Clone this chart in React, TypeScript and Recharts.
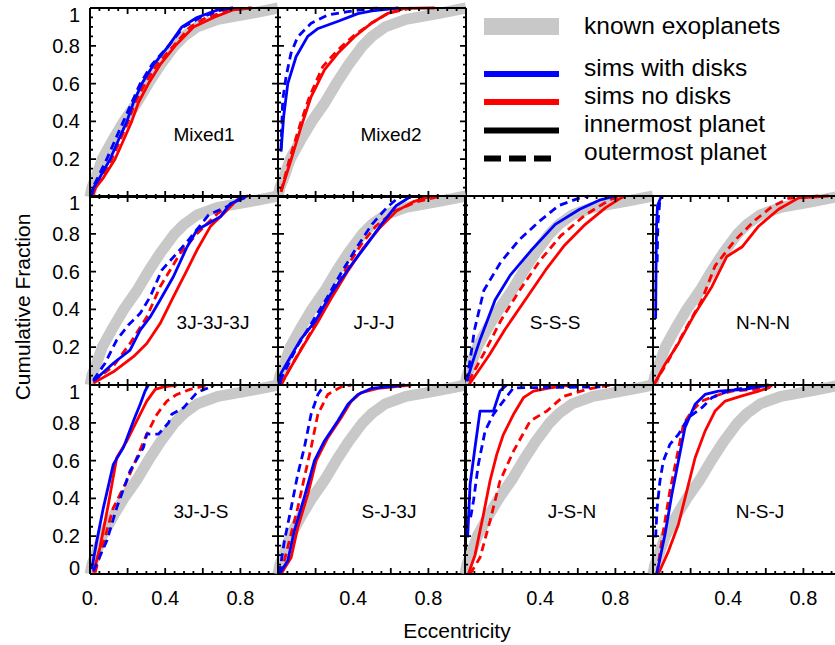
import React from "react"
import { LineChart, Line, XAxis, YAxis } from "recharts"

type Pt = [number, number] // [eccentricity, cumulative fraction]

// observed sample, same in every panel
const knownExoplanets: Pt[] = [[0, 0], [0.01, 0.05], [0.03, 0.1], [0.065, 0.2], [0.12, 0.3], [0.18, 0.4], [0.25, 0.5], [0.31, 0.6], [0.375, 0.7], [0.45, 0.8], [0.5, 0.85], [0.57, 0.9], [0.68, 0.94], [0.85, 0.97], [1, 1]]

const mixed1DiskIn: Pt[] = [[0.005, 0], [0.02, 0.05], [0.05, 0.1], [0.107, 0.2], [0.151, 0.3], [0.196, 0.4], [0.231, 0.5], [0.276, 0.6], [0.338, 0.7], [0.418, 0.8], [0.489, 0.9], [0.569, 0.95], [0.68, 0.99], [0.76, 1]]
const mixed1DiskOut: Pt[] = [[0.005, 0], [0.015, 0.05], [0.04, 0.1], [0.089, 0.2], [0.133, 0.3], [0.178, 0.4], [0.222, 0.5], [0.267, 0.6], [0.329, 0.7], [0.418, 0.8], [0.498, 0.9], [0.587, 0.95], [0.7, 0.99], [0.76, 1]]
const mixed1NoDiskIn: Pt[] = [[0.012, 0], [0.03, 0.05], [0.07, 0.1], [0.133, 0.2], [0.178, 0.3], [0.222, 0.4], [0.258, 0.5], [0.311, 0.6], [0.373, 0.7], [0.453, 0.8], [0.551, 0.9], [0.658, 0.95], [0.76, 0.99], [0.862, 1]]
const mixed1NoDiskOut: Pt[] = [[0.01, 0], [0.025, 0.05], [0.06, 0.1], [0.116, 0.2], [0.16, 0.3], [0.204, 0.4], [0.24, 0.5], [0.293, 0.6], [0.356, 0.7], [0.444, 0.8], [0.533, 0.9], [0.62, 0.95], [0.75, 0.99], [0.853, 1]]

const mixed2DiskIn: Pt[] = [[0.016, 0.24], [0.03, 0.425], [0.052, 0.6], [0.096, 0.742], [0.158, 0.85], [0.21, 0.89], [0.32, 0.93], [0.425, 0.97], [0.5, 0.985], [0.64, 1]]
const mixed2DiskOut: Pt[] = [[0.016, 0.25], [0.025, 0.513], [0.043, 0.637], [0.069, 0.76], [0.105, 0.848], [0.176, 0.919], [0.265, 0.963], [0.372, 0.981], [0.496, 0.998], [0.55, 1]]
const mixed2NoDiskIn: Pt[] = [[0.016, 0.028], [0.069, 0.196], [0.123, 0.372], [0.176, 0.53], [0.247, 0.672], [0.318, 0.76], [0.407, 0.848], [0.496, 0.919], [0.585, 0.972], [0.674, 0.998], [0.834, 1]]
const mixed2NoDiskOut: Pt[] = [[0.016, 0.028], [0.06, 0.196], [0.114, 0.372], [0.167, 0.53], [0.238, 0.69], [0.318, 0.778], [0.407, 0.857], [0.496, 0.919], [0.585, 0.972], [0.71, 1]]

const j3j3j3DiskIn: Pt[] = [[0.018, 0.02], [0.124, 0.115], [0.213, 0.185], [0.267, 0.29], [0.32, 0.36], [0.373, 0.45], [0.444, 0.574], [0.516, 0.73], [0.569, 0.82], [0.693, 0.89], [0.747, 0.96], [0.818, 0.988], [0.83, 1]]
const j3j3j3DiskOut: Pt[] = [[0.018, 0.026], [0.08, 0.115], [0.142, 0.238], [0.204, 0.317], [0.267, 0.379], [0.32, 0.467], [0.382, 0.608], [0.462, 0.697], [0.524, 0.767], [0.631, 0.9], [0.729, 0.944], [0.8, 0.988], [0.82, 1]]
const j3j3j3NoDiskIn: Pt[] = [[0.018, 0.01], [0.124, 0.07], [0.231, 0.15], [0.302, 0.22], [0.373, 0.325], [0.444, 0.467], [0.516, 0.608], [0.569, 0.714], [0.64, 0.838], [0.711, 0.908], [0.782, 0.979], [0.818, 0.996], [0.84, 1]]
const j3j3j3NoDiskOut: Pt[] = [[0.018, 0.02], [0.124, 0.1], [0.213, 0.22], [0.302, 0.36], [0.373, 0.52], [0.48, 0.697], [0.569, 0.8], [0.676, 0.905], [0.747, 0.952], [0.818, 0.996], [0.83, 1]]

const jjjDiskIn: Pt[] = [[0.01, 0], [0.015, 0.06], [0.05, 0.12], [0.12, 0.24], [0.2, 0.34], [0.28, 0.48], [0.39, 0.635], [0.47, 0.74], [0.55, 0.85], [0.63, 0.95], [0.71, 1]]
const jjjDiskOut: Pt[] = [[0.01, 0.02], [0.05, 0.1], [0.1, 0.2], [0.18, 0.33], [0.26, 0.46], [0.34, 0.6], [0.42, 0.73], [0.5, 0.85], [0.58, 0.94], [0.65, 1]]
const jjjNoDiskIn: Pt[] = [[0.015, 0], [0.06, 0.08], [0.13, 0.2], [0.21, 0.33], [0.29, 0.47], [0.37, 0.6], [0.45, 0.72], [0.54, 0.83], [0.63, 0.92], [0.72, 0.97], [0.82, 1]]
const jjjNoDiskOut: Pt[] = [[0.015, 0], [0.07, 0.1], [0.14, 0.22], [0.22, 0.36], [0.3, 0.5], [0.37, 0.63], [0.44, 0.74], [0.52, 0.84], [0.62, 0.92], [0.74, 0.97], [0.87, 1]]

const sssDiskIn: Pt[] = [[0.01, 0.02], [0.04, 0.12], [0.08, 0.24], [0.16, 0.45], [0.24, 0.58], [0.35, 0.71], [0.48, 0.85], [0.61, 0.93], [0.72, 0.98], [0.8, 1]]
const sssDiskOut: Pt[] = [[0.01, 0.02], [0.03, 0.15], [0.05, 0.29], [0.1, 0.5], [0.19, 0.65], [0.29, 0.77], [0.4, 0.87], [0.5, 0.95], [0.61, 0.99], [0.66, 1]]
const sssNoDiskIn: Pt[] = [[0.02, 0], [0.13, 0.16], [0.21, 0.29], [0.32, 0.45], [0.43, 0.61], [0.53, 0.74], [0.64, 0.85], [0.75, 0.94], [0.83, 0.99], [0.85, 1]]
const sssNoDiskOut: Pt[] = [[0.02, 0.02], [0.11, 0.185], [0.19, 0.34], [0.29, 0.5], [0.4, 0.66], [0.51, 0.79], [0.64, 0.9], [0.77, 0.98], [0.83, 1]]

const nnnDiskIn: Pt[] = [[0.014, 0.35], [0.016, 0.6], [0.019, 0.85], [0.024, 0.95], [0.045, 1]]
const nnnDiskOut: Pt[] = [[0.022, 0.65], [0.026, 0.85], [0.036, 0.97], [0.05, 1]]
const nnnNoDiskIn: Pt[] = [[0.004, 0], [0.064, 0.11], [0.135, 0.22], [0.224, 0.38], [0.313, 0.52], [0.393, 0.68], [0.473, 0.73], [0.562, 0.84], [0.668, 0.93], [0.775, 0.99], [0.935, 1]]
const nnnNoDiskOut: Pt[] = [[0.004, 0], [0.082, 0.13], [0.17, 0.29], [0.26, 0.45], [0.33, 0.63], [0.437, 0.767], [0.544, 0.873], [0.633, 0.944], [0.722, 0.988], [0.88, 1]]

const j3jsDiskIn: Pt[] = [[0.009, 0.025], [0.036, 0.175], [0.071, 0.35], [0.124, 0.58], [0.178, 0.67], [0.231, 0.81], [0.267, 0.898], [0.293, 0.968], [0.311, 1]]
const j3jsDiskOut: Pt[] = [[0.018, 0.016], [0.089, 0.175], [0.142, 0.35], [0.213, 0.545], [0.284, 0.669], [0.302, 0.74], [0.364, 0.74], [0.418, 0.8], [0.435, 0.845], [0.498, 0.88], [0.569, 0.96], [0.64, 0.99], [0.658, 1]]
const j3jsNoDiskIn: Pt[] = [[0.018, 0.007], [0.053, 0.14], [0.098, 0.37], [0.142, 0.615], [0.196, 0.704], [0.249, 0.81], [0.302, 0.915], [0.347, 0.977], [0.391, 0.99], [0.462, 1]]
const j3jsNoDiskOut: Pt[] = [[0.027, 0.007], [0.089, 0.228], [0.124, 0.35], [0.196, 0.492], [0.249, 0.615], [0.302, 0.74], [0.356, 0.845], [0.409, 0.915], [0.462, 0.95], [0.533, 0.977], [0.587, 0.99], [0.649, 1]]

const sj3jDiskIn: Pt[] = [[0.007, 0], [0.052, 0.07], [0.087, 0.23], [0.14, 0.406], [0.194, 0.6], [0.247, 0.704], [0.318, 0.81], [0.372, 0.898], [0.425, 0.95], [0.496, 0.982], [0.674, 1]]
const sj3jDiskOut: Pt[] = [[0.007, 0], [0.034, 0.175], [0.07, 0.35], [0.105, 0.527], [0.14, 0.668], [0.176, 0.845], [0.212, 0.95], [0.247, 1]]
const sj3jNoDiskIn: Pt[] = [[0.016, 0], [0.07, 0.087], [0.105, 0.245], [0.158, 0.42], [0.203, 0.6], [0.265, 0.721], [0.336, 0.827], [0.39, 0.915], [0.443, 0.96], [0.531, 0.982], [0.709, 1]]
const sj3jNoDiskOut: Pt[] = [[0.016, 0], [0.06, 0.175], [0.105, 0.35], [0.14, 0.51], [0.176, 0.668], [0.212, 0.845], [0.265, 0.95], [0.336, 0.99], [0.39, 1]]

const jsnDiskIn: Pt[] = [[0.014, 0.193], [0.027, 0.474], [0.053, 0.668], [0.08, 0.862], [0.151, 0.862], [0.186, 0.968], [0.204, 0.985], [0.222, 1]]
const jsnDiskOut: Pt[] = [[0.03, 0.3], [0.045, 0.386], [0.071, 0.58], [0.107, 0.757], [0.151, 0.845], [0.204, 0.915], [0.231, 0.95], [0.258, 0.985], [0.72, 0.99]]
const jsnNoDiskIn: Pt[] = [[0.018, 0], [0.053, 0.1], [0.098, 0.315], [0.133, 0.492], [0.169, 0.633], [0.204, 0.738], [0.258, 0.845], [0.311, 0.933], [0.364, 0.968], [0.453, 0.985], [0.56, 1]]
const jsnNoDiskOut: Pt[] = [[0.027, 0], [0.08, 0.087], [0.133, 0.28], [0.186, 0.492], [0.258, 0.65], [0.347, 0.81], [0.435, 0.862], [0.524, 0.94], [0.649, 0.977], [0.773, 1]]

const nsjDiskIn: Pt[] = [[0.02, 0], [0.064, 0.21], [0.1, 0.42], [0.135, 0.598], [0.17, 0.774], [0.224, 0.898], [0.277, 0.95], [0.348, 0.968], [0.49, 0.977], [0.615, 1]]
const nsjDiskOut: Pt[] = [[0.014, 0.193], [0.022, 0.35], [0.037, 0.492], [0.055, 0.598], [0.09, 0.686], [0.135, 0.738], [0.188, 0.827], [0.26, 0.88], [0.313, 0.933], [0.402, 0.968], [0.49, 0.985], [0.615, 1]]
const nsjNoDiskIn: Pt[] = [[0.028, 0], [0.082, 0.12], [0.135, 0.262], [0.18, 0.44], [0.224, 0.615], [0.277, 0.756], [0.33, 0.862], [0.384, 0.915], [0.473, 0.942], [0.562, 0.968], [0.615, 0.985], [0.633, 1]]
const nsjNoDiskOut: Pt[] = [[0.02, 0], [0.055, 0.228], [0.09, 0.44], [0.126, 0.615], [0.162, 0.792], [0.206, 0.862], [0.26, 0.915], [0.33, 0.942], [0.42, 0.968], [0.544, 0.977], [0.615, 1]]

const minorTicks = [0, 0.05, 0.1, 0.15, 0.2, 0.25, 0.3, 0.35, 0.4, 0.45, 0.5, 0.55, 0.6, 0.65, 0.7, 0.75, 0.8, 0.85, 0.9, 0.95, 1]
const xLabelValues = [0, 0.4, 0.8]
const xLabelText = ["0.", "0.4", "0.8"]
const yLabelValues = [0, 0.2, 0.4, 0.6, 0.8, 1]
const yLabelText = ["0", "0.2", "0.4", "0.6", "0.8", "1"]

const legendNames = ["known exoplanets", "sims with disks", "sims no disks", "innermost planet", "outermost planet"]

const panels = [
  { name: "Mixed1", col: 0, row: 0, labelX: 114, diskIn: mixed1DiskIn, diskOut: mixed1DiskOut, noDiskIn: mixed1NoDiskIn, noDiskOut: mixed1NoDiskOut },
  { name: "Mixed2", col: 1, row: 0, labelX: 113, diskIn: mixed2DiskIn, diskOut: mixed2DiskOut, noDiskIn: mixed2NoDiskIn, noDiskOut: mixed2NoDiskOut },
  { name: "3J-3J-3J", col: 0, row: 1, labelX: 123, diskIn: j3j3j3DiskIn, diskOut: j3j3j3DiskOut, noDiskIn: j3j3j3NoDiskIn, noDiskOut: j3j3j3NoDiskOut },
  { name: "J-J-J", col: 1, row: 1, labelX: 96, diskIn: jjjDiskIn, diskOut: jjjDiskOut, noDiskIn: jjjNoDiskIn, noDiskOut: jjjNoDiskOut },
  { name: "S-S-S", col: 2, row: 1, labelX: 90, diskIn: sssDiskIn, diskOut: sssDiskOut, noDiskIn: sssNoDiskIn, noDiskOut: sssNoDiskOut },
  { name: "N-N-N", col: 3, row: 1, labelX: 110, diskIn: nnnDiskIn, diskOut: nnnDiskOut, noDiskIn: nnnNoDiskIn, noDiskOut: nnnNoDiskOut },
  { name: "3J-J-S", col: 0, row: 2, labelX: 111, diskIn: j3jsDiskIn, diskOut: j3jsDiskOut, noDiskIn: j3jsNoDiskIn, noDiskOut: j3jsNoDiskOut },
  { name: "S-J-3J", col: 1, row: 2, labelX: 111, diskIn: sj3jDiskIn, diskOut: sj3jDiskOut, noDiskIn: sj3jNoDiskIn, noDiskOut: sj3jNoDiskOut },
  { name: "J-S-N", col: 2, row: 2, labelX: 107, diskIn: jsnDiskIn, diskOut: jsnDiskOut, noDiskIn: jsnNoDiskIn, noDiskOut: jsnNoDiskOut },
  { name: "N-S-J", col: 3, row: 2, labelX: 107, diskIn: nsjDiskIn, diskOut: nsjDiskOut, noDiskIn: nsjNoDiskIn, noDiskOut: nsjNoDiskOut },
]

// plot box of one panel; the chart is 1px bigger on every side for the axes
const W = 188
const H = 189
const PAD = 1
const GRAY = "#c8c8c8"
const BLUE = "#0000ff"
const RED = "#ff0000"
const FONT = "'Liberation Sans', Arial, Helvetica, sans-serif"
const DASH = "8 5"

const panelLeft = (col: number) => Math.round(90 + col * 187.7)
const panelTop = (row: number) => Math.round(8 + row * 188.3)

const toRows = (pts: Pt[]) => pts.map(([e, f]) => ({ e, f }))

const isMajor = (v: number) => Math.abs(v * 5 - Math.round(v * 5)) < 1e-6

// the bottom axis draws the inward marks of both horizontal edges,
// the left axis those of both vertical edges (top/right axes give no ticks)
const makeTick = (side: "x" | "y", showLabels: boolean, lastRow: boolean, firstCol: boolean) => (props: any) => {
  const v = Number(props.payload.value)
  const len = isMajor(v) ? 6 : 3
  const st = { stroke: "#000", strokeWidth: 1.8, fill: "none" }
  const L = PAD
  const T = PAD
  const R = PAD + W
  const B = PAD + H
  if (side === "x") {
    const i = xLabelValues.findIndex((t) => Math.abs(t - v) < 1e-6)
    return (
      <g>
        <path d={`M${props.x},${B}V${B - len}M${props.x},${T}V${T + len}`} {...st} />
        {showLabels && i >= 0 && (i > 0 || firstCol) && (
          <text x={props.x} y={B + 24} textAnchor="middle" dominantBaseline="central" fontSize={20} fontFamily={FONT} fill="#000">
            {xLabelText[i]}
          </text>
        )}
      </g>
    )
  }
  const i = yLabelValues.findIndex((t) => Math.abs(t - v) < 1e-6)
  const dy = v === 1 ? 7 : v === 0 ? -6 : 0
  return (
    <g>
      <path d={`M${L},${props.y}H${L + len}M${R},${props.y}H${R - len}`} {...st} />
      {showLabels && i >= 0 && (i > 0 || lastRow) && (
        <text x={L - 10} y={props.y + dy} textAnchor="end" dominantBaseline="central" fontSize={20} fontFamily={FONT} fill="#000">
          {yLabelText[i]}
        </text>
      )}
    </g>
  )
}

const frame = { stroke: "#000", strokeWidth: 2 }

function Panel({ p }: { p: (typeof panels)[number] }) {
  const lastRow = p.row === 2
  const firstCol = p.col === 0
  const series = [
    { key: "known", data: knownExoplanets, color: GRAY, width: 11, dash: undefined },
    { key: "ndOut", data: p.noDiskOut, color: RED, width: 2.8, dash: DASH },
    { key: "ndIn", data: p.noDiskIn, color: RED, width: 2.8, dash: undefined },
    { key: "dOut", data: p.diskOut, color: BLUE, width: 2.8, dash: DASH },
    { key: "dIn", data: p.diskIn, color: BLUE, width: 2.8, dash: undefined },
  ]
  const axisCommon = { type: "number" as const, domain: [0, 1], ticks: minorTicks, interval: 0, tickSize: 0, tickMargin: 0, tickLine: false, axisLine: frame }
  return (
    <div style={{ position: "absolute", left: panelLeft(p.col) - PAD, top: panelTop(p.row) - PAD }}>
      <LineChart width={W + 2 * PAD} height={H + 2 * PAD} margin={{ top: 0, right: 0, bottom: 0, left: 0 }}>
        <XAxis dataKey="e" {...axisCommon} height={PAD} tick={makeTick("x", lastRow, lastRow, firstCol)} />
        <XAxis xAxisId="top" orientation="top" allowDataOverflow {...axisCommon} height={PAD} tick={false} />
        <YAxis {...axisCommon} width={PAD} tick={makeTick("y", firstCol, lastRow, firstCol)} />
        <YAxis yAxisId="right" orientation="right" allowDataOverflow {...axisCommon} width={PAD} tick={false} />
        {series.map((s) => (
          <Line
            key={s.key}
            data={toRows(s.data)}
            dataKey="f"
            type="linear"
            stroke={s.color}
            strokeWidth={s.width}
            strokeDasharray={s.dash}
            strokeLinejoin="round"
            dot={false}
            activeDot={false}
            isAnimationActive={false}
          />
        ))}
      </LineChart>
    </div>
  )
}

export default function App() {
  const legendX1 = 484
  const legendX2 = 559
  const legendTextX = 584
  const legendBaselines = [34, 76, 104, 132, 160]
  return (
    <div style={{ position: "absolute", left: 0, top: 0, width: 835, height: 645, background: "#fff", overflow: "hidden", fontFamily: FONT }}>
      <style>{".recharts-surface{overflow:visible}.recharts-wrapper{overflow:visible}"}</style>
      {panels.map((p) => (
        <Panel key={p.name} p={p} />
      ))}
      <svg width={835} height={645} style={{ position: "absolute", left: 0, top: 0, pointerEvents: "none" }}>
        {panels.map((p) => (
          <text key={p.name} x={panelLeft(p.col) + p.labelX} y={panelTop(p.row) + 126} textAnchor="middle" dominantBaseline="central" fontSize={19} fontFamily={FONT} fill="#000">
            {p.name}
          </text>
        ))}
        <rect x={legendX1} y={18} width={legendX2 - legendX1} height={17} fill={GRAY} />
        <line x1={legendX1} x2={legendX2} y1={74} y2={74} stroke={BLUE} strokeWidth={6} />
        <line x1={legendX1} x2={legendX2} y1={102} y2={102} stroke={RED} strokeWidth={6} />
        <line x1={legendX1} x2={legendX2} y1={130.5} y2={130.5} stroke="#000" strokeWidth={6} />
        <line x1={legendX1} x2={legendX2} y1={158.5} y2={158.5} stroke="#000" strokeWidth={6} strokeDasharray="17 8" />
        {legendNames.map((n, i) => (
          <text key={n} x={legendTextX} y={legendBaselines[i]} fontSize={24.5} fontFamily={FONT} fill="#000">
            {n}
          </text>
        ))}
        <text x={22} y={307} transform="rotate(-90 22 307)" textAnchor="middle" dominantBaseline="central" fontSize={21} fontFamily={FONT} fill="#000">
          Cumulative Fraction
        </text>
        <text x={457} y={630} textAnchor="middle" dominantBaseline="central" fontSize={21} fontFamily={FONT} fill="#000">
          Eccentricity
        </text>
      </svg>
    </div>
  )
}
